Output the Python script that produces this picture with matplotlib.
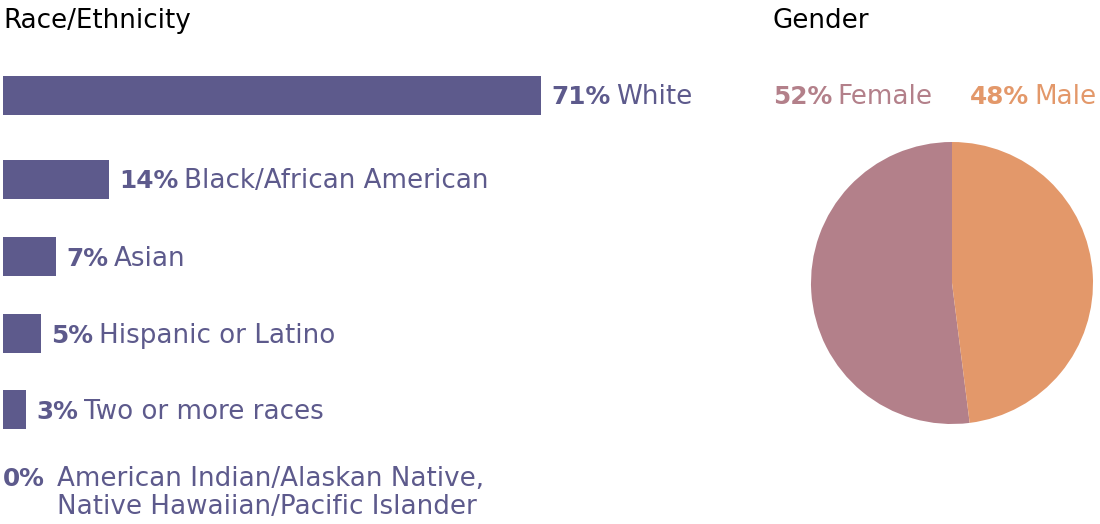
import matplotlib
matplotlib.use('Agg')
from matplotlib import pyplot as plt

plt.rcParams['font.family'] = ['DejaVu Sans']

# Race/Ethnicity data
race_labels = ['White', 'Black/African American', 'Asian', 'Hispanic or Latino',
               'Two or more races',
               'American Indian/Alaskan Native,\nNative Hawaiian/Pacific Islander']
race_values = [71, 14, 7, 5, 3, 0]

# Gender data
gender_labels = ['Female', 'Male']
gender_values = [52, 48]

# layout: row centres in pixels from the top of the figure
row_centres = [95, 179, 256.5, 333.5, 409.5, 477]

bar_color = '#5d5a8c'
gender_colors = ['#b3808a', '#e3986a']
W, H = 1100, 524

fig = plt.figure(figsize=(W / 100, H / 100), dpi=100)
fig.set_facecolor('white')

# bar chart: x axis 0..100 over 758 px, y axis in pixel rows
bars = fig.add_axes([3 / W, 0, 758 / W, 1])
bars.set_xlim(0, 100)
bars.set_ylim(H, 0)
bars.axis('off')
bars.barh(row_centres, race_values, height=39, color=bar_color)

size = 18.8      # regular text
bsize = 17.8     # bold percentages
for y, v, name in zip(row_centres, race_values, race_labels):
    pct = bars.annotate(f'{v}%', xy=(v, y), xytext=(7.5 if v else 0, -1.5),
                        textcoords='offset points', ha='left', va='center',
                        fontsize=bsize, fontweight='bold', color=bar_color)
    if '\n' in name:
        bars.annotate(name, xy=(1, 1), xycoords=pct, xytext=(9, 1),
                      textcoords='offset points', ha='left', va='top',
                      fontsize=size, color=bar_color, linespacing=1.12)
    else:
        bars.annotate(name, xy=(1, 0.5), xycoords=pct, xytext=(4, 0),
                      textcoords='offset points', ha='left', va='center',
                      fontsize=size, color=bar_color)

fig.text(3 / W, 1 - 21 / H, 'Race/Ethnicity', ha='left', va='center',
         fontsize=size, color='black')
fig.text(773 / W, 1 - 21 / H, 'Gender', ha='left', va='center',
         fontsize=size, color='black')

# gender labels above the pie
x_pos = [773 / W, 970 / W]
for x, v, name, c in zip(x_pos, gender_values, gender_labels, gender_colors):
    t = fig.text(x, 1 - 97 / H, f'{v}%', ha='left', va='center',
                 fontsize=bsize, fontweight='bold', color=c)
    fig.add_artist(plt.Annotation(name, xy=(1, 0.5), xycoords=t,
                                  xytext=(4, 0), textcoords='offset points',
                                  ha='left', va='center', fontsize=size,
                                  color=c))

# pie
r = 141
pie = fig.add_axes([(952 - r) / W, 1 - (283 + r) / H, 2 * r / W, 2 * r / H])
pie.pie(gender_values, colors=gender_colors, startangle=90,
        counterclock=True, radius=1, wedgeprops=dict(linewidth=0))
pie.set_xlim(-1, 1)
pie.set_ylim(-1, 1)
pie.axis('off')

fig.savefig('out.png', dpi=100, facecolor='white')
